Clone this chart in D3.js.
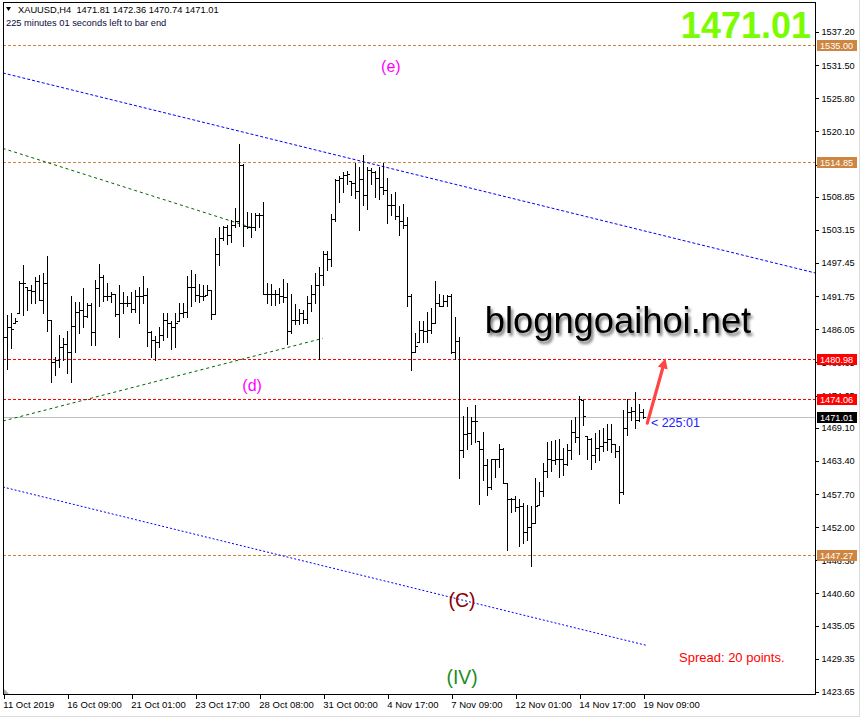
<!DOCTYPE html>
<html><head><meta charset="utf-8">
<script src="https://cdn.jsdelivr.net/npm/d3@7"></script>
<style>
body{margin:0;background:#fff;}
svg text{font-family:"Liberation Sans",Arial,sans-serif;}
</style></head>
<body><svg id="c" width="862" height="718"></svg>
<script>
// ---------- DATA ----------
const symbolHeader = "XAUUSD,H4  1471.81 1472.36 1470.74 1471.01";
const timerText = "225 minutes 01 seconds left to bar end";
const timeTickIdx = [0,16,32,48,64,80,96,112,128,144,160];
const timeTickLabels = ["11 Oct 2019","16 Oct 09:00","21 Oct 01:00","23 Oct 17:00","28 Oct 08:00","31 Oct 00:00","4 Nov 17:00","7 Nov 09:00","12 Nov 01:00","14 Nov 17:00","19 Nov 09:00"];
const priceTicks = [1537.20,1531.50,1525.80,1520.10,1514.40,1508.85,1503.15,1497.45,1491.75,1486.05,1480.35,1474.65,1469.10,1463.40,1457.70,1452.00,1446.30,1440.60,1435.05,1429.35,1423.65];

const opens = [1480.0,1484.8,1486.5,1487.1,1488.8,1494.0,1493.4,1492.8,1492.7,1494.3,
1491.1,1494.1,1487.7,1480.5,1480.8,1483.0,1483.5,1482.2,1486.7,1489.1,
1489.3,1488.3,1490.3,1485.6,1493.2,1495.1,1491.8,1491.8,1492.1,1488.6,
1490.5,1490.6,1490.5,1489.5,1491.7,1491.7,1492.0,1485.6,1484.2,1483.9,
1485.1,1487.7,1487.2,1486.5,1487.5,1488.9,1489.1,1493.4,1493.4,1491.9,
1491.8,1492.0,1492.8,1488.7,1499.0,1501.7,1503.6,1502.3,1504.0,1504.6,
1514.4,1503.9,1503.7,1503.6,1505.7,1505.7,1492.2,1492.2,1492.2,1492.2,
1491.7,1491.6,1485.8,1487.7,1487.7,1488.8,1487.8,1490.6,1492.1,1493.6,
1495.4,1499.0,1498.2,1505.0,1511.7,1512.1,1512.6,1511.6,1511.2,1509.9,
1511.9,1509.2,1513.5,1513.1,1512.1,1510.6,1510.0,1507.4,1507.4,1505.6,
1504.7,1504.0,1491.8,1482.1,1483.8,1485.9,1485.8,1485.9,1487.2,1490.5,
1490.1,1491.0,1491.8,1482.1,1484.0,1465.2,1468.0,1468.2,1470.2,1466.8,
1465.4,1462.7,1459.0,1463.7,1463.7,1465.4,1459.6,1456.9,1456.9,1455.5,
1455.7,1451.1,1452.0,1452.8,1455.8,1458.2,1461.7,1463.7,1463.6,1463.7,
1463.7,1462.9,1465.3,1468.3,1467.5,1473.9,1467.7,1467.1,1464.4,1465.6,
1465.9,1466.7,1467.1,1466.3,1465.1,1458.0,1469.0,1471.9,1472.0,1470.5,
1471.81];
const highs = [1486.8,1488.5,1488.8,1488.0,1494.3,1497.1,1493.4,1493.6,1495.1,1495.4,
1495.7,1498.6,1487.7,1481.3,1485.1,1484.5,1485.8,1491.7,1490.8,1490.8,
1493.2,1490.5,1490.5,1494.5,1497.2,1495.4,1494.1,1492.5,1492.2,1493.6,
1492.5,1491.8,1492.4,1492.8,1493.4,1495.2,1493.1,1485.8,1484.9,1486.5,
1488.9,1488.8,1487.4,1488.8,1490.5,1490.5,1495.2,1496.3,1495.5,1493.8,
1493.6,1493.7,1492.8,1501.7,1503.6,1503.9,1504.0,1504.9,1506.9,1517.9,
1514.5,1506.3,1506.1,1506.1,1506.1,1508.0,1494.0,1493.9,1492.8,1493.1,
1494.7,1494.0,1492.2,1490.4,1489.5,1489.4,1491.7,1493.6,1495.7,1496.7,
1499.5,1499.5,1505.9,1511.9,1512.4,1513.1,1513.3,1511.6,1514.6,1513.9,
1516.0,1513.9,1513.8,1513.2,1514.0,1514.6,1512.0,1509.4,1509.7,1507.2,
1507.6,1505.4,1492.2,1485.4,1487.4,1487.4,1489.0,1489.8,1494.3,1492.1,
1492.0,1492.0,1492.1,1488.2,1484.7,1471.2,1472.7,1470.9,1473.0,1466.8,
1468.4,1463.7,1463.7,1463.7,1466.4,1465.6,1459.6,1457.1,1457.3,1456.8,
1456.2,1455.8,1455.7,1460.4,1459.7,1463.0,1466.6,1466.8,1467.0,1467.1,
1465.6,1466.4,1470.5,1471.0,1474.6,1473.9,1467.7,1467.3,1468.2,1468.7,
1469.0,1469.7,1469.7,1466.4,1465.9,1472.2,1474.0,1472.7,1475.2,1473.2,
1472.36];
const lows = [1474.5,1479.3,1482.8,1487.1,1488.8,1488.5,1489.3,1490.5,1490.5,1491.1,
1488.8,1485.8,1477.0,1478.2,1479.6,1480.8,1478.5,1476.9,1482.2,1485.4,
1486.5,1488.2,1483.4,1483.4,1490.0,1490.9,1491.1,1490.8,1488.4,1484.8,
1488.8,1490.0,1489.1,1489.1,1487.2,1490.5,1483.2,1481.3,1480.7,1483.0,
1484.2,1484.8,1482.6,1483.0,1487.5,1488.2,1488.2,1490.0,1490.9,1490.8,
1491.1,1492.0,1487.9,1488.7,1497.1,1501.4,1500.7,1501.1,1503.7,1503.8,
1500.4,1503.4,1501.9,1503.1,1503.6,1492.1,1490.5,1490.2,1490.2,1490.5,
1490.8,1483.5,1485.5,1486.9,1487.0,1487.2,1487.2,1489.2,1490.5,1480.9,
1493.6,1496.3,1496.9,1504.7,1508.0,1509.6,1511.1,1509.2,1508.6,1503.1,
1507.4,1506.8,1511.1,1508.8,1508.5,1509.4,1504.3,1505.7,1505.1,1502.3,
1503.4,1490.1,1479.1,1482.1,1483.8,1483.8,1483.8,1485.4,1487.1,1490.0,
1490.0,1490.0,1481.9,1480.9,1460.5,1464.1,1465.5,1466.4,1466.7,1456.0,
1460.2,1457.5,1458.5,1460.7,1462.4,1459.6,1448.1,1454.7,1454.8,1448.7,
1449.2,1449.8,1445.4,1452.8,1455.8,1457.4,1460.7,1461.6,1462.8,1460.7,
1461.0,1462.7,1463.7,1466.7,1464.6,1469.6,1463.7,1462.1,1463.3,1463.6,
1465.1,1465.3,1465.0,1464.0,1456.2,1457.8,1467.9,1470.5,1469.0,1470.2,
1470.74];
const closes = [1484.8,1486.5,1486.1,1487.4,1494.0,1494.1,1492.8,1492.7,1494.3,1491.1,
1494.1,1487.7,1480.5,1480.8,1483.0,1483.5,1482.2,1486.7,1489.1,1489.3,
1488.3,1490.3,1485.6,1493.2,1495.1,1491.8,1491.8,1492.1,1488.6,1490.5,
1490.6,1490.5,1489.5,1491.7,1491.7,1492.0,1485.6,1484.2,1483.9,1485.1,
1487.7,1487.2,1486.5,1487.2,1488.9,1489.1,1493.4,1493.4,1491.9,1491.8,
1491.8,1492.8,1488.7,1499.0,1501.7,1503.6,1502.3,1504.0,1504.6,1514.4,
1503.9,1503.7,1503.6,1505.7,1505.7,1492.2,1492.2,1492.2,1492.2,1491.7,
1491.6,1485.8,1487.7,1487.7,1488.8,1487.8,1490.6,1492.1,1493.6,1495.4,
1499.0,1498.2,1505.0,1511.7,1512.1,1512.6,1512.7,1511.2,1509.9,1511.9,
1509.2,1513.5,1513.1,1512.1,1510.6,1510.0,1507.4,1507.4,1505.6,1504.7,
1504.0,1491.8,1482.1,1483.1,1485.9,1485.8,1485.9,1487.2,1490.5,1490.1,
1491.0,1491.8,1482.1,1484.0,1465.2,1468.0,1468.2,1470.2,1470.3,1465.4,
1462.7,1459.0,1463.7,1463.7,1465.4,1459.6,1456.9,1456.9,1455.5,1455.7,
1451.1,1452.0,1452.8,1455.7,1458.2,1461.7,1463.7,1463.6,1463.7,1463.7,
1462.9,1465.3,1468.3,1467.5,1474.1,1471.1,1467.1,1464.4,1465.6,1465.9,
1466.7,1467.1,1466.3,1465.1,1458.0,1469.0,1471.9,1472.0,1470.5,1471.8,
1471.01];

const levelPrices = [1535.00,1514.85,1480.98,1474.06,1447.27];
const levelColors = ["#CD853F","#CD853F","#FF0000","#FF0000","#CD853F"];
const bidPrice = 1471.01;

// trend lines: [startIndex, startPrice, endIndex, endPrice]
const trendBlueUpper = [-0.1,1530.15,203,1495.74];
const trendBlueLower = [-0.1,1458.92,160.9,1431.65];
const trendGreenUpper = [-0.15,1517.19,61.9,1503.60];
const trendGreenLower = [-0.1,1470.27,79.9,1484.50];

// wave labels: [text, index, price (baseline), color, size]
const waveLabels = [["(e)",96.9,1530.32,"#FF00FF",16],["(d)",62.2,1475.44,"#FF00FF",16],["(C)",114.7,1438.27,"#8B0000",19.5],["(IV)",114.7,1425.03,"#1E8C1E",19.3]];
const arrowFrom = [161.0,1469.9];
const arrowTo = [165.2,1480.9];
const countdownLabel = ["< 225:01",161.9,1470.0];
const watermark = ["blogngoaihoi.net",120.8,1485.5];

// ---------- CHART ----------
const svg = d3.select("#c");
const L=3, R=815, T=2, B=694;
const x = d3.scaleLinear().domain([0,160]).range([3.3,643.3]);
const y = d3.scaleLinear().domain([1423.65,1537.20]).range([692,32]);

const defs = svg.append("defs");
defs.append("clipPath").attr("id","plot").append("rect").attr("x",L).attr("y",T).attr("width",R-L).attr("height",B-T);
const f = defs.append("filter").attr("id","sh").attr("x","-10%").attr("y","-30%").attr("width","120%").attr("height","160%");
f.append("feDropShadow").attr("dx",2).attr("dy",3).attr("stdDeviation",1.6).attr("flood-color","#000").attr("flood-opacity",0.55);
const mk = defs.append("marker").attr("id","ah").attr("viewBox","0 0 10 10").attr("refX",5).attr("refY",5)
 .attr("markerWidth",3.2).attr("markerHeight",3.2).attr("orient","auto").attr("markerUnits","strokeWidth");
mk.append("path").attr("d","M0,0 L10,5 L0,10 Z").attr("fill","#FF4545");

// window borders
svg.append("line").attr("x1",0).attr("x2",859).attr("y1",716.5).attr("y2",716.5).attr("stroke","#dcdcdc");
svg.append("line").attr("x1",859.5).attr("x2",859.5).attr("y1",0).attr("y2",717).attr("stroke","#dcdcdc");

const plot = svg.append("g").attr("clip-path","url(#plot)");
const crisp = v => Math.round(v)+0.5;

// horizontal levels
levelPrices.forEach((p,i)=>{
  plot.append("line").attr("x1",L).attr("x2",R).attr("y1",crisp(y(p))).attr("y2",crisp(y(p)))
   .attr("stroke",levelColors[i]).attr("stroke-dasharray","3,2");
});
plot.append("line").attr("x1",L).attr("x2",R).attr("y1",crisp(y(bidPrice))).attr("y2",crisp(y(bidPrice))).attr("stroke","#C0C0C0");

// trend lines
[[trendBlueUpper,"#0000FF","3,2"],[trendBlueLower,"#0000FF","2,2"],[trendGreenUpper,"#006400","3,3"],[trendGreenLower,"#006400","3,3"]].forEach(([t,c,da])=>{
  plot.append("line").attr("x1",x(t[0])).attr("y1",y(t[1])).attr("x2",x(t[2])).attr("y2",y(t[3]))
   .attr("stroke",c).attr("stroke-width",1).attr("stroke-dasharray",da);
});

// bars
let d="";
for(let i=0;i<opens.length;i++){
  const xc = Math.round(x(i))+0.5;
  const yh = Math.round(y(highs[i])), yl = Math.round(y(lows[i]));
  const yo = crisp(y(opens[i])), yc = crisp(y(closes[i]));
  d += `M${xc},${yh}V${yl+1}M${xc-2.5},${yo}H${xc}M${xc},${yc}H${xc+2.5}`;
}
plot.append("path").attr("d",d).attr("stroke","#000").attr("fill","none").attr("shape-rendering","crispEdges");

// frame
svg.append("rect").attr("x",L+0.5).attr("y",T+0.5).attr("width",R-L).attr("height",B-T).attr("fill","none").attr("stroke","#000").attr("shape-rendering","crispEdges");
svg.append("path").attr("d","M4,689L4,694L9,694Z").attr("fill","#a8a8a8");

// axes
const yAxis = d3.axisRight(y).tickValues(priceTicks).tickSize(3).tickPadding(3).tickFormat(d3.format(".2f"));
const gy = svg.append("g").attr("transform",`translate(${R+0.5},0)`).call(yAxis);
gy.select(".domain").remove();
gy.selectAll("text").attr("font-size","9.2px").attr("fill","#000").attr("font-family","Liberation Sans, Arial");
gy.selectAll("line").attr("stroke","#000").attr("shape-rendering","crispEdges");

const xAxis = d3.axisBottom(x).tickValues(timeTickIdx).tickSize(4).tickFormat((v,i)=>timeTickLabels[i]);
const gx = svg.append("g").attr("transform",`translate(0,${B+0.5})`).call(xAxis);
gx.select(".domain").remove();
gx.selectAll("line").attr("stroke","#000").attr("shape-rendering","crispEdges").attr("transform","translate(0.2,0)");
gx.selectAll("text").attr("text-anchor","start").attr("x",-0.5).attr("y",7).attr("font-size","9.5px").attr("fill","#000").attr("font-family","Liberation Sans, Arial");

// price labels
levelPrices.concat([bidPrice]).forEach((p,i)=>{
  const c = i<levelColors.length ? levelColors[i] : "#000";
  const yy = Math.round(y(p));
  svg.append("rect").attr("x",817).attr("y",yy-5).attr("width",40).attr("height",11).attr("fill",c);
  svg.append("text").attr("x",820).attr("y",yy+3.6).attr("fill","#fff").attr("font-size","9.2px").text(d3.format(".2f")(p));
});

// header
svg.append("path").attr("d","M6,7L11,7L8.5,11Z").attr("fill","#000");
svg.append("text").attr("x",18).attr("y",13.3).attr("font-size","9.3px").attr("fill","#000").style("white-space","pre").text(symbolHeader);
svg.append("text").attr("x",6).attr("y",26.3).attr("font-size","9.3px").attr("fill","#0a0a3a").text(timerText);

// big price
svg.append("text").attr("x",811).attr("y",38).attr("text-anchor","end").attr("font-size","36px").attr("font-weight","bold").attr("fill","#7CFC00").text("1471.01");

// wave labels
waveLabels.forEach(([t,i,p,c,s])=>{
  svg.append("text").attr("x",x(i)).attr("y",y(p)).attr("text-anchor","middle").attr("font-size",s+"px").attr("fill",c).text(t);
});

// watermark
svg.append("text").attr("x",618).attr("y",y(watermark[2])).attr("text-anchor","middle").attr("font-size","36.3px").attr("fill","#000").attr("filter","url(#sh)").text(watermark[0]);

// countdown & arrow
svg.append("text").attr("x",x(countdownLabel[1])).attr("y",y(countdownLabel[2])+4).attr("font-size","12.5px").attr("fill","#2020FF").text(countdownLabel[0]);
svg.append("line").attr("x1",x(arrowFrom[0])).attr("y1",y(arrowFrom[1])).attr("x2",x(arrowTo[0])).attr("y2",y(arrowTo[1])+4)
  .attr("stroke","#FF4545").attr("stroke-width",3.2).attr("stroke-linecap","round").attr("marker-end","url(#ah)");

// spread
svg.append("text").attr("x",679).attr("y",662).attr("font-size","13px").attr("fill","#FF0000").text("Spread: 20 points.");
</script></body></html>
